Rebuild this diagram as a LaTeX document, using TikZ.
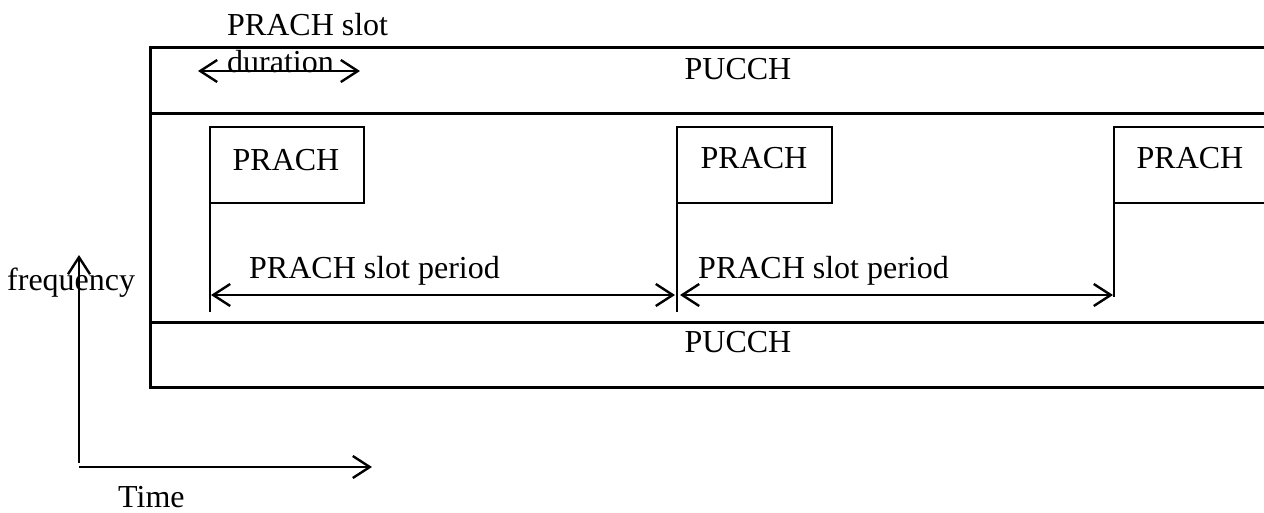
\documentclass[tikz,border=0pt]{standalone}
\usepackage{fontspec}
\setmainfont{Liberation Serif}
\usetikzlibrary{arrows.meta}
\tikzset{chev/.tip={Straight Barb[length=17pt,width=22pt,line width=2.4pt]}}
\begin{document}
\begin{tikzpicture}[x=1pt,y=-1pt,
  framelines/.style={line width=3pt},
  slotbox/.style={draw, line width=2pt},
  slottick/.style={line width=2pt},
  dimarrow/.style={line width=2.4pt, {chev}-{chev}},
  axisarrow/.style={line width=2.6pt, -{chev}},
  lbl/.style={font=\fontsize{32}{38}\selectfont, inner sep=0pt}
]
\useasboundingbox (0,0) rectangle (1264,512);

% frame
\draw[framelines] (1264,47) -- (150,47) -- (150,387) -- (1264,387);
\draw[framelines] (150,113) -- (1264,113);
\draw[framelines] (150,322) -- (1264,322);

% PUCCH labels
\node[lbl, anchor=base] (pucchtop) at (738,79) {PUCCH};
\node[lbl, anchor=base] (pucchbot) at (738,352) {PUCCH};

% PRACH boxes
\draw[slotbox] (210,127) rectangle (364,203);
\draw[slotbox] (677,127) rectangle (832,203);
\draw[slottick] (1264,127) -- (1114,127) -- (1114,203) -- (1264,203);
\node[lbl, anchor=base] (p1) at (286,170) {PRACH};
\node[lbl, anchor=base] (p2) at (754,168) {PRACH};
\node[lbl, anchor=base] (p3) at (1190,168) {PRACH};

% ticks
\coordinate (t1a) at (210,203); \coordinate (t1b) at (210,312);
\coordinate (t2a) at (677,203); \coordinate (t2b) at (677,312);
\coordinate (t3a) at (1114,203); \coordinate (t3b) at (1114,297);
\draw[slottick] (t1a) -- (t1b);
\draw[slottick] (t2a) -- (t2b);
\draw[slottick] (t3a) -- (t3b);

% period arrows
\coordinate (a1l) at (211,295); \coordinate (a1r) at (675,295);
\coordinate (a2l) at (680,295); \coordinate (a2r) at (1113,295);
\draw[dimarrow] (a1l) -- (a1r);
\draw[dimarrow] (a2l) -- (a2r);
\node[lbl, anchor=base west] (per1) at (249,278) {PRACH slot period};
\node[lbl, anchor=base west] (per2) at (698,278) {PRACH slot period};

% duration
\node[lbl, anchor=base west] (dur1) at (227,35) {PRACH slot};
\node[lbl, anchor=base west] (dur2) at (227,72) {duration};
\coordinate (dl) at (198,71); \coordinate (dr) at (360,71);
\draw[dimarrow] (dl) -- (dr);

% axes
\coordinate (origin) at (79,467);
\coordinate (ftop) at (79,255);
\coordinate (tend) at (372,467);
\draw[axisarrow] (79,463) -- (ftop);
\draw[axisarrow] (origin) -- (tend);
\node[lbl, anchor=base west] (freq) at (7,290) {frequency};
\node[lbl, anchor=base west] (time) at (118,507) {Time};
\end{tikzpicture}
\end{document}
